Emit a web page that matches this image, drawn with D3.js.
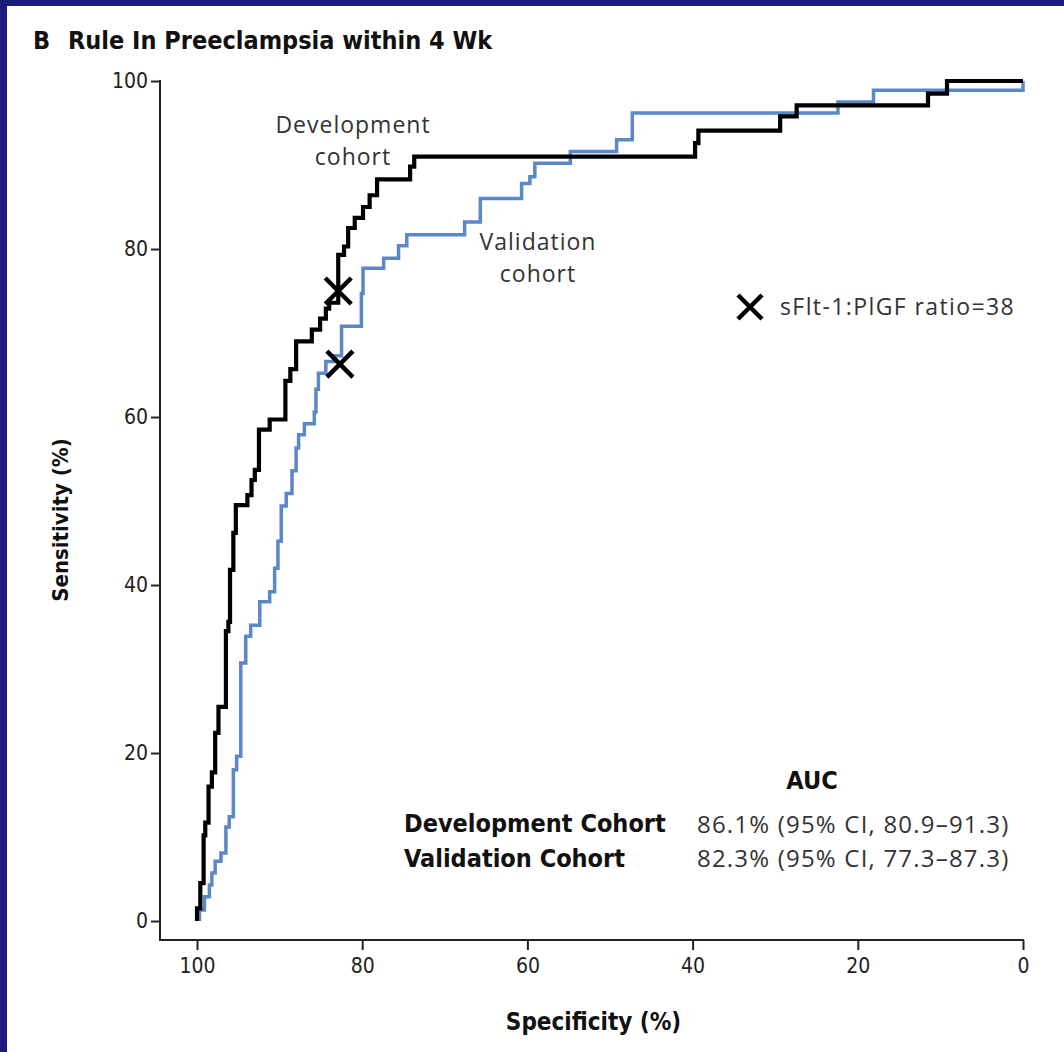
<!DOCTYPE html>
<html>
<head>
<meta charset="utf-8">
<script src="https://cdn.jsdelivr.net/npm/d3@7"></script>
<style>
  body { margin: 0; background: #1b1b80; }
  svg { display: block; }
</style>
</head>
<body>
<svg></svg>
<script>
// ROC step curves: [specificity, sensitivity] at the top of each vertical step
var devSpec = [100, 100, 99.6, 99.2, 99.0, 98.6, 98.2, 97.8, 97.4, 96.5, 96.2, 96.0, 95.6, 95.3, 93.9, 93.4, 93.0, 92.5, 91.2, 89.3, 88.7, 88.0, 86.1, 85.1, 84.4, 84.0, 82.9, 82.2, 81.7, 80.9, 79.9, 79.1, 78.2, 74.2, 73.7, 39.7, 39.3, 29.4, 27.4, 11.5, 9.2, 0];
var devSens = [0, 1.5, 4.5, 10.2, 11.7, 16.0, 17.7, 22.4, 25.5, 34.5, 35.6, 41.8, 46.2, 49.5, 50.7, 52.5, 53.7, 58.5, 59.7, 64.3, 65.7, 69.0, 70.4, 71.7, 72.9, 73.6, 79.3, 80.3, 82.5, 83.7, 85.0, 86.4, 88.3, 89.8, 91.0, 92.6, 94.1, 95.8, 97.1, 98.5, 100, 100];

var valSpec = [99.7, 99.7, 99.1, 98.5, 98.2, 97.8, 97.1, 96.5, 96.1, 95.6, 95.2, 94.7, 94.1, 93.5, 92.4, 91.2, 90.6, 90.2, 89.8, 89.2, 88.5, 88.0, 87.7, 87.0, 85.8, 85.6, 85.3, 84.4, 83.4, 82.5, 80.1, 79.9, 77.4, 75.6, 74.6, 67.6, 65.7, 60.7, 59.7, 59.1, 54.8, 49.2, 47.3, 22.4, 18.1, 0, 0];
var valSens = [0, 1.3, 2.9, 4.3, 5.7, 7.1, 8.1, 11.2, 12.4, 18.0, 19.6, 30.7, 33.9, 35.2, 38.0, 39.2, 42.0, 45.2, 49.4, 50.9, 53.6, 56.3, 57.9, 59.2, 60.6, 63.3, 65.2, 66.6, 67.3, 70.8, 74.7, 77.7, 78.9, 80.4, 81.7, 83.2, 86.0, 87.8, 88.6, 90.2, 91.6, 93.0, 96.2, 97.5, 98.9, 98.9, 100];

// cutoff markers (sFlt-1:PlGF ratio = 38)
var cutSpec = [82.9, 82.7];
var cutSens = [75.0, 66.3];

var xTicks = [100, 80, 60, 40, 20, 0];
var yTicks = [0, 20, 40, 60, 80, 100];

var aucNames = ["Development Cohort", "Validation Cohort"];
var aucValues = ["86.1% (95% CI, 80.9\u201391.3)", "82.3% (95% CI, 77.3\u201387.3)"];

var width = 1064;
var height = 1052;
var narrow = "'Liberation Sans Narrow', 'DejaVu Sans Condensed', sans-serif";
var humanist = "'Open Sans', 'Lato', sans-serif";

var svg = d3.select("svg")
	.attr("width", width)
	.attr("height", height);

// white panel inside the blue slide frame
svg.append("rect")
	.attr("x", 7)
	.attr("y", 6)
	.attr("width", width - 7)
	.attr("height", height - 6)
	.attr("fill", "white");

var Xscale = d3.scaleLinear()
				.domain([100, 0])
				.range([197, 1023]);

var Yscale = d3.scaleLinear()
				.domain([0, 100])
				.range([921, 81]);

var axisX = 160;
var axisY = 940;

var xAxis = d3.axisBottom(Xscale)
				.tickValues(xTicks)
				.tickSize(10)
				.tickSizeOuter(0)
				.tickPadding(8);

var yAxis = d3.axisLeft(Yscale)
				.tickValues(yTicks)
				.tickSize(9)
				.tickSizeOuter(0)
				.tickPadding(3);

var gx = svg.append("g")
	.attr("transform", "translate(0," + axisY + ")")
	.call(xAxis);

var gy = svg.append("g")
	.attr("transform", "translate(" + axisX + ",0)")
	.call(yAxis);

[gx, gy].forEach(function(g) {
	g.select(".domain").remove();
	g.selectAll("line").attr("stroke", "#222").attr("stroke-width", 2);
	g.selectAll("text")
		.attr("fill", "#222")
		.style("font-family", narrow)
		.style("font-size", "21px");
});

// axis lines run into the corner below the y=0 tick
svg.append("line")
	.attr("x1", axisX).attr("x2", Xscale.range()[1] + 1)
	.attr("y1", axisY).attr("y2", axisY)
	.attr("stroke", "#222").attr("stroke-width", 2);

svg.append("line")
	.attr("x1", axisX).attr("x2", axisX)
	.attr("y1", Yscale.range()[1] - 1).attr("y2", axisY + 1)
	.attr("stroke", "#222").attr("stroke-width", 2);

var stepLine = d3.line()
	.x(d => Xscale(d[0]))
	.y(d => Yscale(d[1]))
	.curve(d3.curveStepAfter);

svg.append("path")
	.datum(d3.zip(valSpec, valSens))
	.attr("d", stepLine)
	.attr("fill", "none")
	.attr("stroke", "#5b88c8")
	.attr("stroke-width", 3.5);

svg.append("path")
	.datum(d3.zip(devSpec, devSens))
	.attr("d", stepLine)
	.attr("fill", "none")
	.attr("stroke", "black")
	.attr("stroke-width", 4.2);

var cross = "M-13,-13L13,13M-13,13L13,-13";

svg.selectAll(".cut")
	.data(d3.zip(cutSpec, cutSens))
	.enter()
		.append("path")
		.attr("class", "cut")
		.attr("transform", d => "translate(" + Xscale(d[0]) + "," + Yscale(d[1]) + ")")
		.attr("d", cross)
		.attr("stroke", "black")
		.attr("stroke-width", 4.5);

// legend for the marker
svg.append("path")
	.attr("transform", "translate(750,307)")
	.attr("d", "M-12,-12L12,12M-12,12L12,-12")
	.attr("stroke", "black")
	.attr("stroke-width", 4.5);

svg.append("text")
	.attr("x", 780)
	.attr("y", 307)
	.attr("dy", "0.35em")
	.attr("fill", "#333")
	.style("font-family", humanist)
	.style("font-size", "23px")
	.style("letter-spacing", "1.4px")
	.text("sFlt-1:PlGF ratio=38");

// curve labels
var curveLabels = [
	{x: 353, y: 125, lines: ["Development", "cohort"]},
	{x: 538, y: 242, lines: ["Validation", "cohort"]}
];

curveLabels.forEach(function(l) {
	svg.append("text")
		.attr("text-anchor", "middle")
		.attr("fill", "#333")
		.style("font-family", humanist)
		.style("font-size", "23px")
		.style("letter-spacing", "1px")
		.selectAll("tspan")
		.data(l.lines)
		.enter()
			.append("tspan")
			.attr("x", l.x)
			.attr("y", (d, i) => l.y + i * 32)
			.attr("dy", "0.35em")
			.text(d => d);
});

// AUC table
svg.append("text")
	.attr("x", 812)
	.attr("y", 780)
	.attr("dy", "0.35em")
	.attr("text-anchor", "middle")
	.attr("font-weight", "bold")
	.attr("fill", "#111")
	.style("font-family", narrow)
	.style("font-size", "25px")
	.text("AUC");

aucNames.forEach(function(name, i) {
	svg.append("text")
		.attr("x", 404)
		.attr("y", 823 + i * 35)
		.attr("dy", "0.35em")
		.attr("font-weight", "bold")
		.attr("fill", "#111")
		.style("font-family", narrow)
		.style("font-size", "25px")
		.text(name);

	svg.append("text")
		.attr("x", 697)
		.attr("y", 825 + i * 34)
		.attr("dy", "0.35em")
		.attr("fill", "#333")
		.style("font-family", humanist)
		.style("font-size", "24px")
		.style("letter-spacing", "1.2px")
		.text(aucValues[i]);
});

// titles
svg.append("text")
	.attr("x", 33)
	.attr("y", 40)
	.attr("dy", "0.35em")
	.attr("font-weight", "bold")
	.attr("fill", "#111")
	.style("font-family", narrow)
	.style("font-size", "25px")
	.text("B");

svg.append("text")
	.attr("x", 68)
	.attr("y", 40)
	.attr("dy", "0.35em")
	.attr("font-weight", "bold")
	.attr("fill", "#111")
	.style("font-family", narrow)
	.style("font-size", "25px")
	.text("Rule In Preeclampsia within 4 Wk");

svg.append("text")
	.attr("x", (axisX + Xscale.range()[1]) / 2 + 2)
	.attr("y", 1022)
	.attr("dy", "0.35em")
	.attr("text-anchor", "middle")
	.attr("font-weight", "bold")
	.attr("fill", "#111")
	.style("font-family", narrow)
	.style("font-size", "24px")
	.text("Specificity (%)");

svg.append("text")
	.attr("transform", "rotate(-90)")
	.attr("x", -520)
	.attr("y", 60)
	.attr("dy", "0.35em")
	.attr("text-anchor", "middle")
	.attr("font-weight", "bold")
	.attr("fill", "#111")
	.style("font-family", narrow)
	.style("font-size", "22px")
	.text("Sensitivity (%)");
</script>
</body>
</html>
